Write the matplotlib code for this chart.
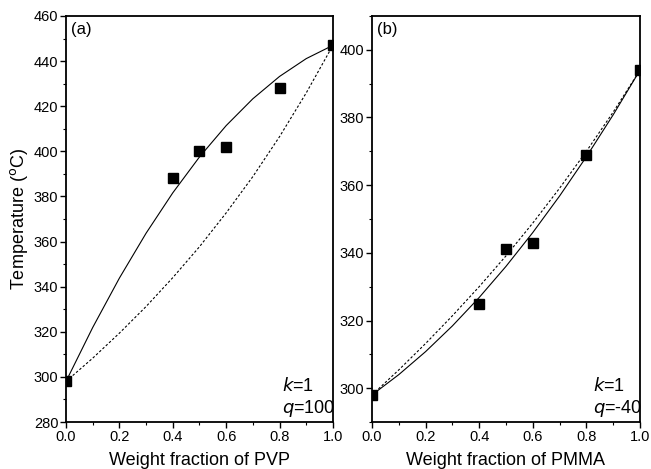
import matplotlib
matplotlib.use("Agg")
import matplotlib.pyplot as plt
from matplotlib.ticker import MultipleLocator, FormatStrFormatter

plt.rcParams['font.family'] = ['Liberation Sans', 'DejaVu Sans']

# measured glass transitions
w_exp = [0.0, 0.4, 0.5, 0.6, 0.8, 1.0]
tg_pvp = [298, 388, 400, 402, 428, 447]
tg_pmma = [298, 325, 341, 343, 369, 394]

# model curves
w_fit = [0.0, 0.1, 0.2, 0.3, 0.4, 0.5, 0.6, 0.7, 0.8, 0.9, 1.0]
pvp_kwei = [298, 321.9, 343.8, 363.7, 381.6, 397.5, 411.4, 423.3, 433.2, 441.1, 447]
pvp_dash = [298, 308.3, 319.4, 331.2, 344.0, 357.7, 372.7, 388.8, 406.5, 425.9, 447]
pmma_kwei = [298, 304.0, 310.8, 318.4, 326.8, 336.0, 346.0, 356.8, 368.4, 380.8, 394]
pmma_dash = [298, 305.4, 313.2, 321.4, 330.0, 339.1, 348.8, 359.1, 370.0, 381.6, 394]

panels = [
    ("(a)", "Weight fraction of PVP", tg_pvp, pvp_kwei, pvp_dash, (280, 460), "=100", 0.81),
    ("(b)", "Weight fraction of PMMA", tg_pmma, pmma_kwei, pmma_dash, (290, 410), "=-40", 0.825),
]

fig = plt.figure(figsize=(6.51, 4.69), dpi=100)
ax1 = fig.add_axes([0.1014, 0.1002, 0.410, 0.8657])
ax2 = fig.add_axes([0.5714, 0.1002, 0.4117, 0.8657])

for ax, (tag, xlab, tg, kwei, dash, ylim, qtxt, xt) in zip([ax1, ax2], panels):
    ax.plot(w_fit, kwei, color='black', lw=0.8)
    ax.plot(w_fit, dash, color='black', lw=0.8, dashes=(2.2, 1.8))
    ax.plot(w_exp, tg, 's', color='black', ms=6.5)

    ax.set_xlim(0, 1)
    ax.set_ylim(*ylim)
    ax.xaxis.set_major_locator(MultipleLocator(0.2))
    ax.xaxis.set_minor_locator(MultipleLocator(0.1))
    ax.xaxis.set_major_formatter(FormatStrFormatter('%.1f'))
    ax.yaxis.set_major_locator(MultipleLocator(20))
    ax.yaxis.set_minor_locator(MultipleLocator(10))
    ax.tick_params(which='major', direction='out', length=4, width=1, labelsize=10.5, pad=1.5)
    ax.tick_params(which='minor', direction='out', length=2.5, width=0.8)
    for s in ax.spines.values():
        s.set_linewidth(1.3)
    ax.set_xlabel(xlab, fontsize=13, labelpad=6)

    ax.text(0.02, 0.985, tag, transform=ax.transAxes, fontsize=12, va='top', ha='left')
    ax.text(xt, 0.076, "$k$=1", transform=ax.transAxes, fontsize=13, va='baseline', ha='left')
    ax.text(xt, 0.022, "$q$" + qtxt, transform=ax.transAxes, fontsize=13, va='baseline', ha='left')

ax1.set_ylabel(r"Temperature ($^{\rm o}$C)", fontsize=13, labelpad=3)

fig.savefig("out.png", dpi=100)
plt.close()
